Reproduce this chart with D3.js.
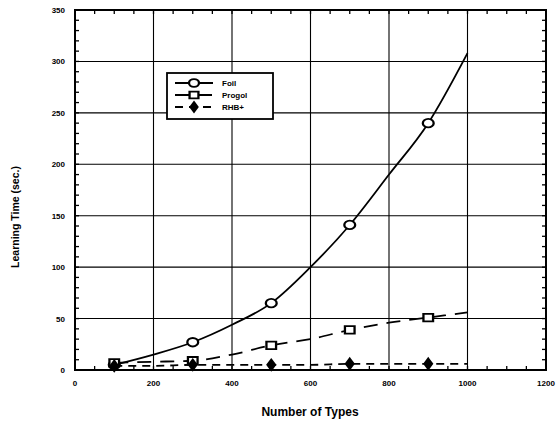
<!DOCTYPE html>
<html>
<head>
<meta charset="utf-8">
<script src="https://cdn.jsdelivr.net/npm/d3@7"></script>
<style>
  body { margin: 0; background: #fff; }
  svg { display: block; font-family: "Liberation Sans", Arial, sans-serif; }
  .tick-label { font-size: 8px; font-weight: bold; }
  .grid line { stroke: #000; stroke-width: 1.1; }
  .frame { fill: none; stroke: #000; stroke-width: 2; }
</style>
</head>
<body>
<div id="chart"></div>
<script>
var width = 557, height = 423;

// data
var types = [100, 200, 300, 400, 500, 600, 700, 800, 900, 1000];
var foil = [5, 15, 27, 44, 65, 100, 141, 190, 240, 308];
var progol = [7, 8, 9, 15, 24, 30, 39, 46, 51, 56];
var rhb = [4, 4, 5, 5, 5, 5, 6, 6, 6, 6];
var markedTypes = [100, 300, 500, 700, 900];
var xTicks = [0, 200, 400, 600, 800, 1000, 1200];
var yTicks = [0, 50, 100, 150, 200, 250, 300, 350];
var seriesNames = ["Foil", "Progol", "RHB+"];

var series = [
  { name: seriesNames[0], values: foil, dash: null, symbol: d3.symbolCircle, fill: "#fff", size: 70 },
  { name: seriesNames[1], values: progol, dash: "14,9", symbol: d3.symbolSquare, fill: "#fff", size: 70 },
  { name: seriesNames[2], values: rhb, dash: "8,6", symbol: d3.symbolDiamond, fill: "#000", size: 38 }
];

var svg = d3.select("#chart").append("svg")
  .attr("width", width)
  .attr("height", height);

var x = d3.scaleLinear().domain([0, 1200]).range([75, 546]);
var y = d3.scaleLinear().domain([0, 350]).range([370, 10]);

// grid lines
var grid = svg.append("g").attr("class", "grid");
grid.selectAll(".vg")
  .data(xTicks.slice(1, -1))
  .enter().append("line")
    .attr("x1", function(d) { return x(d); })
    .attr("x2", function(d) { return x(d); })
    .attr("y1", y(0))
    .attr("y2", y(350))
    .attr("stroke-width", 1.6);
grid.selectAll(".hg")
  .data(yTicks.slice(1, -1))
  .enter().append("line")
    .attr("x1", x(0))
    .attr("x2", x(1200))
    .attr("y1", function(d) { return y(d); })
    .attr("y2", function(d) { return y(d); });

// inward minor ticks on all four sides
var minorX = d3.range(0, 1201, 50);
var minorY = d3.range(0, 351, 10);
var ticks = svg.append("g").attr("stroke", "#000").attr("stroke-width", 1.3);
ticks.selectAll(".tb").data(minorX).enter().append("line")
  .attr("x1", function(d) { return x(d); }).attr("x2", function(d) { return x(d); })
  .attr("y1", y(0)).attr("y2", y(0) - 4);
ticks.selectAll(".tt").data(minorX).enter().append("line")
  .attr("x1", function(d) { return x(d); }).attr("x2", function(d) { return x(d); })
  .attr("y1", y(350)).attr("y2", y(350) + 4);
ticks.selectAll(".tl").data(minorY).enter().append("line")
  .attr("y1", function(d) { return y(d); }).attr("y2", function(d) { return y(d); })
  .attr("x1", x(0)).attr("x2", x(0) + 4);
ticks.selectAll(".tr").data(minorY).enter().append("line")
  .attr("y1", function(d) { return y(d); }).attr("y2", function(d) { return y(d); })
  .attr("x1", x(1200)).attr("x2", x(1200) - 4);

svg.append("rect")
  .attr("class", "frame")
  .attr("x", x(0))
  .attr("y", y(350))
  .attr("width", x(1200) - x(0))
  .attr("height", y(0) - y(350));

// tick labels
svg.selectAll(".xl")
  .data(xTicks)
  .enter().append("text")
    .attr("class", "tick-label")
    .attr("x", function(d) { return x(d); })
    .attr("y", 386)
    .attr("text-anchor", "middle")
    .text(function(d) { return d; });

svg.selectAll(".yl")
  .data(yTicks)
  .enter().append("text")
    .attr("class", "tick-label")
    .attr("x", 65)
    .attr("y", function(d) { return y(d) + 3; })
    .attr("text-anchor", "end")
    .text(function(d) { return d; });

svg.append("text")
  .attr("x", 310)
  .attr("y", 416)
  .attr("text-anchor", "middle")
  .style("font-size", "12px")
  .style("font-weight", "bold")
  .text("Number of Types");

svg.append("text")
  .attr("transform", "translate(19,217) rotate(-90)")
  .attr("text-anchor", "middle")
  .style("font-size", "10.5px")
  .style("font-weight", "bold")
  .text("Learning Time (sec.)");

// lines
var line = d3.line()
  .x(function(d) { return x(d[0]); })
  .y(function(d) { return y(d[1]); })
  .curve(d3.curveMonotoneX);

series.forEach(function(s) {
  var pts = types.map(function(t, i) { return [t, s.values[i]]; });
  svg.append("path")
    .datum(pts)
    .attr("fill", "none")
    .attr("stroke", "#000")
    .attr("stroke-width", 1.8)
    .attr("stroke-dasharray", s.dash)
    .attr("d", line);

  svg.selectAll(null)
    .data(pts.filter(function(p) { return markedTypes.indexOf(p[0]) >= 0; }))
    .enter().append("path")
      .attr("transform", function(d) { return "translate(" + x(d[0]) + "," + y(d[1]) + ") scale(1.15,0.9)"; })
      .attr("d", d3.symbol().type(s.symbol).size(s.size))
      .attr("fill", s.fill)
      .attr("stroke", "#000")
      .attr("stroke-width", 2);
});

// legend
var legend = svg.append("g").attr("transform", "translate(167,73)");
legend.append("rect")
  .attr("width", 106)
  .attr("height", 46)
  .attr("fill", "#fff")
  .attr("stroke", "#000")
  .attr("stroke-width", 1.8);

var item = legend.selectAll(".item")
  .data(series)
  .enter().append("g")
    .attr("transform", function(d, i) { return "translate(0," + (10 + i * 12) + ")"; });

item.append("line")
  .attr("x1", 8).attr("x2", 46)
  .attr("stroke", "#000")
  .attr("stroke-width", 1.8)
  .attr("stroke-dasharray", function(d) { return d.dash; });

item.append("path")
  .attr("transform", "translate(27,0) scale(1.15,0.9)")
  .attr("d", function(d) { return d3.symbol().type(d.symbol).size(d.size * 0.85)(); })
  .attr("fill", function(d) { return d.fill; })
  .attr("stroke", "#000")
  .attr("stroke-width", 2);

item.append("text")
  .attr("x", 55)
  .attr("y", 3)
  .style("font-size", "8px")
  .style("font-weight", "bold")
  .text(function(d) { return d.name; });
</script>
</body>
</html>
